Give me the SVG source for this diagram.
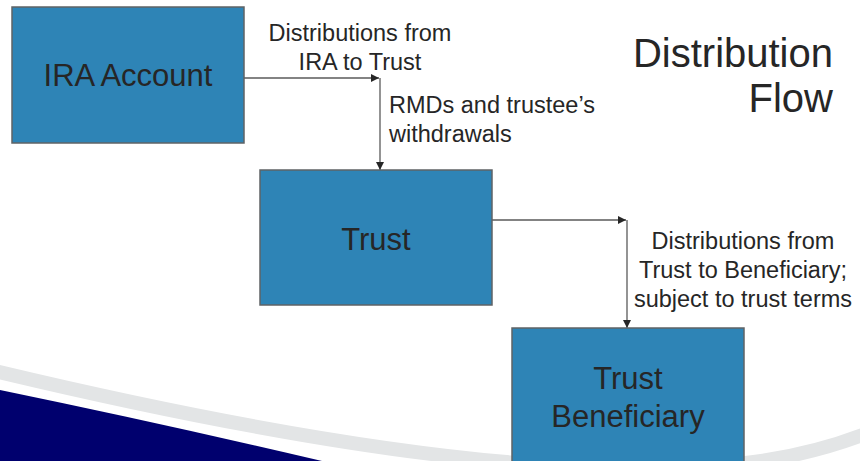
<svg xmlns="http://www.w3.org/2000/svg" width="860" height="461" viewBox="0 0 860 461">
  <defs>
    <style>
      .box { fill: #2E84B6; stroke: #5f6366; stroke-width: 1.5; }
      .boxtext { font-family: "Liberation Sans", Arial, sans-serif; font-size: 31px; fill: #262626; text-anchor: middle; }
      .label { font-family: "Liberation Sans", Arial, sans-serif; font-size: 23.5px; fill: #262626; }
      .title { font-family: "Liberation Sans", Arial, sans-serif; font-size: 40px; fill: #262626; text-anchor: end; }
      .conn { fill: none; stroke: #5a5a5a; stroke-width: 1.3; }
    </style>
    <marker id="arrow" viewBox="0 0 10 10" refX="10" refY="5" markerWidth="8" markerHeight="8" markerUnits="userSpaceOnUse" orient="auto">
      <path d="M0,0 L10,5 L0,10 Z" fill="#262626"/>
    </marker>
  </defs>
  <rect x="0" y="0" width="860" height="461" fill="#ffffff"/>
  <g id="background">
    <path d="M -5,371 C 200,420 420,462 600,468 C 720,472 800,460 870,432" fill="none" stroke="#e3e5e6" stroke-width="14"/>
    <path d="M 0,390 Q 160,423 322,461 L 0,461 Z" fill="#00006e"/>
  </g>
  <g id="title">
    <text class="title" x="833" y="67">Distribution</text>
    <text class="title" x="833" y="112">Flow</text>
  </g>
  <g id="connectors">
    <line class="conn" x1="244" y1="78" x2="379" y2="78" marker-end="url(#arrow)"/>
    <line class="conn" x1="380" y1="78" x2="380" y2="170" marker-end="url(#arrow)"/>
    <line class="conn" x1="492" y1="220" x2="626" y2="220" marker-end="url(#arrow)"/>
    <line class="conn" x1="627" y1="220" x2="627" y2="328" marker-end="url(#arrow)"/>
    <text class="label" x="360" y="41" text-anchor="middle">Distributions from</text>
    <text class="label" x="360" y="70" text-anchor="middle">IRA to Trust</text>
    <text class="label" x="389" y="113">RMDs and trustee’s</text>
    <text class="label" x="389" y="142">withdrawals</text>
    <text class="label" x="743" y="249" text-anchor="middle">Distributions from</text>
    <text class="label" x="743" y="278" text-anchor="middle">Trust to Beneficiary;</text>
    <text class="label" x="743" y="307" text-anchor="middle">subject to trust terms</text>
  </g>
  <g id="ira">
    <rect class="box" x="12" y="7" width="232" height="136"/>
    <text class="boxtext" x="128" y="86">IRA Account</text>
  </g>
  <g id="trust">
    <rect class="box" x="260" y="170" width="232" height="135"/>
    <text class="boxtext" x="376" y="250">Trust</text>
  </g>
  <g id="beneficiary">
    <rect class="box" x="512" y="328" width="232" height="140"/>
    <text class="boxtext" x="628" y="389">Trust</text>
    <text class="boxtext" x="628" y="427">Beneficiary</text>
  </g>
</svg>
